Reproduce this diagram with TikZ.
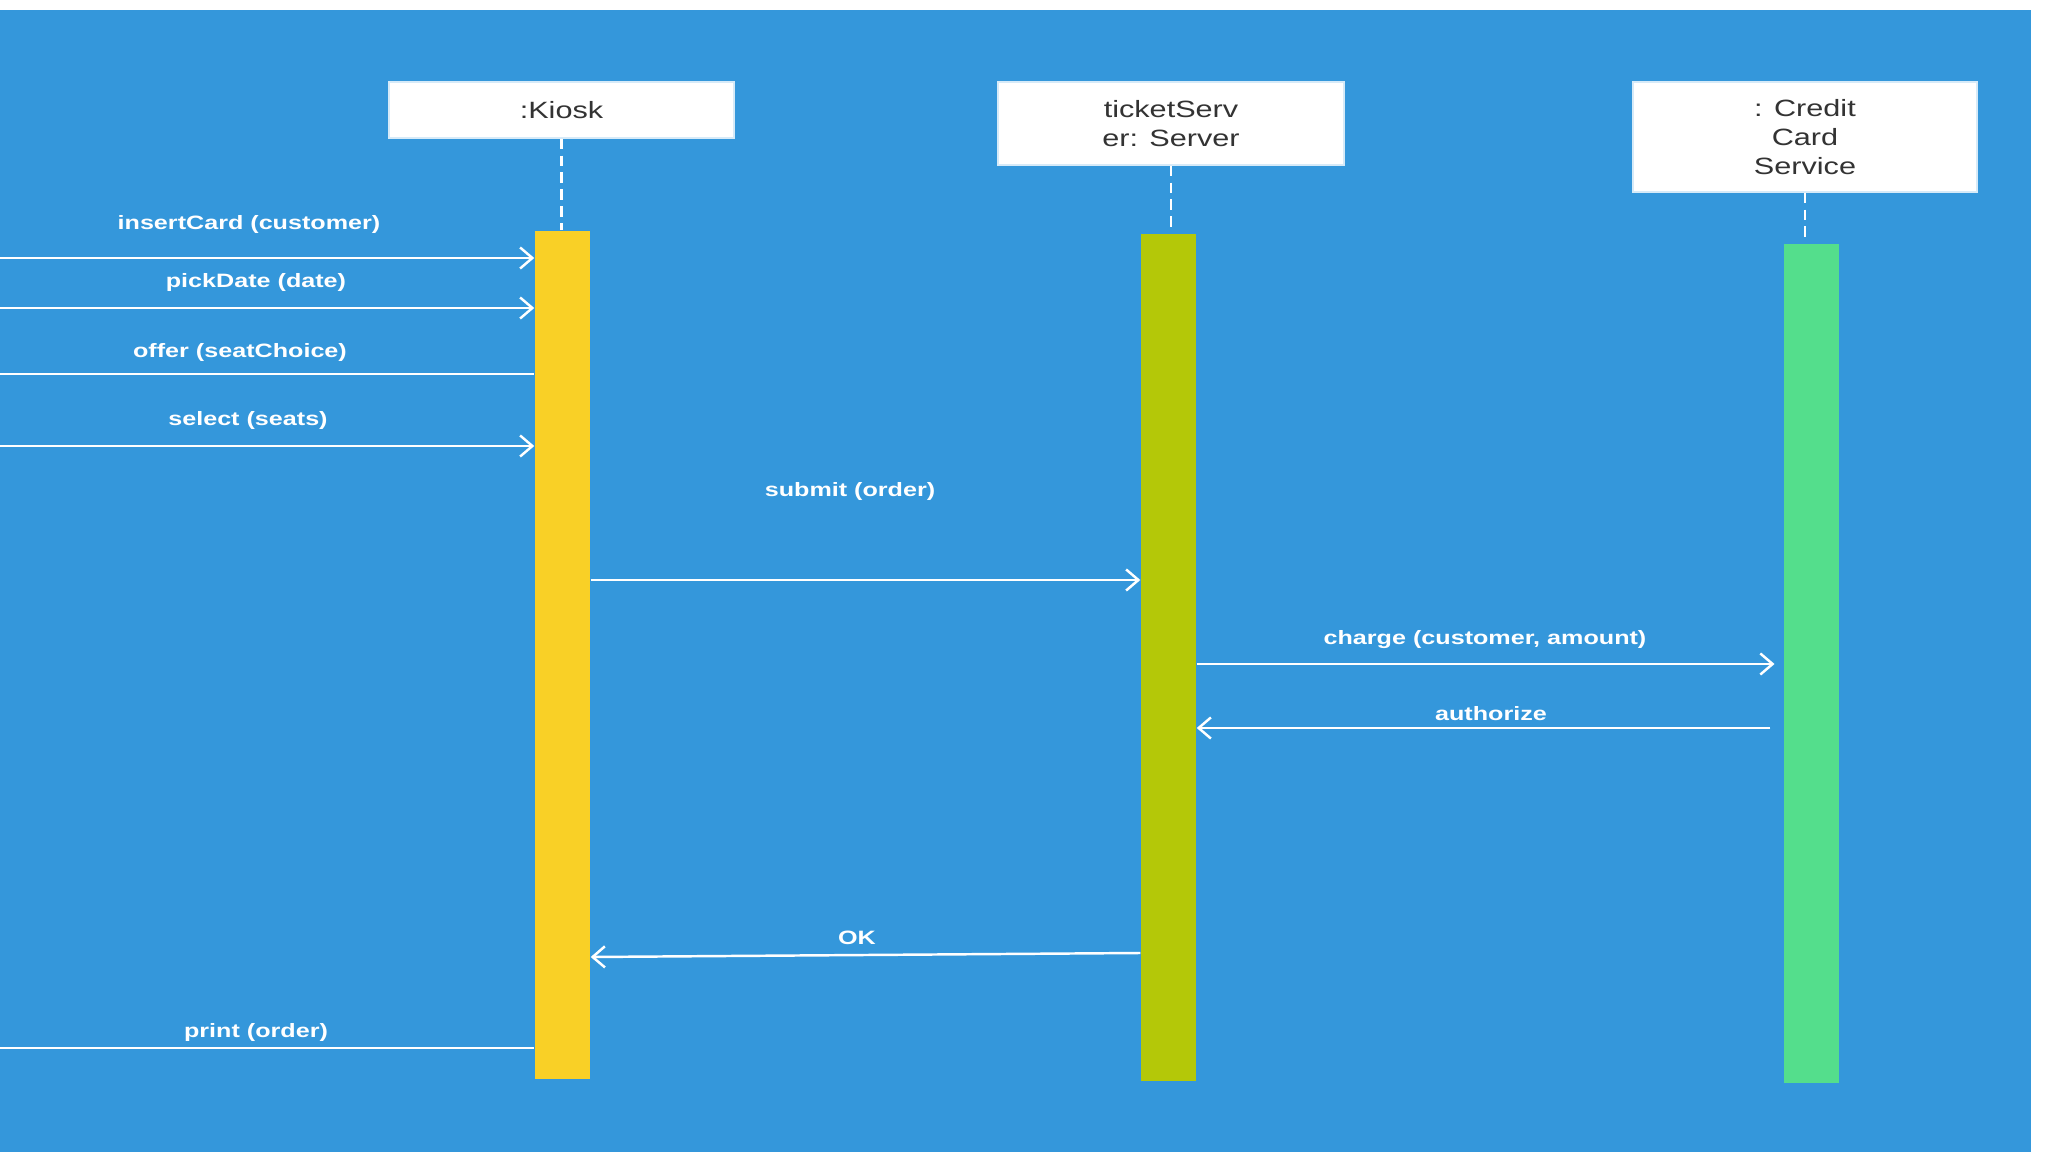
\documentclass[tikz,border=0pt]{standalone}
\usepackage{fontspec}
\setmainfont{Liberation Sans}
\newfontfamily\umlfont[FakeStretch=1.3]{Liberation Sans}
\usetikzlibrary{arrows.meta}
\definecolor{sceneBlue}{RGB}{52,151,219}
\definecolor{kioskYellow}{RGB}{249,208,38}
\definecolor{serverOlive}{RGB}{180,200,8}
\definecolor{cardGreen}{RGB}{84,222,140}
\tikzset{
  objbox/.style={draw=white!80!sceneBlue, fill=white, line width=0.4pt, inner sep=0pt,
    align=center, text=black!80, font=\umlfont\fontsize{6.7}{8.2}\selectfont},
  actbar/.style={minimum width=0.55cm, inner sep=0pt},
  lifeline/.style={white, line width=0.7pt, dash pattern=on 3pt off 1.8pt},
  msg/.style={white, line width=0.7pt, -{Straight Barb[length=3.5pt,width=6pt]}},
  msgline/.style={white, line width=0.7pt},
  msglabel/.style={text=white, inner sep=0pt, font=\umlfont\bfseries\fontsize{5.5}{6.5}\selectfont},
}
\begin{document}
\begin{tikzpicture}[x=0.01cm,y=-0.01cm]
\useasboundingbox (0,0) rectangle (2048,1152);
\fill[white] (0,0) rectangle (2048,1152);
\fill[sceneBlue] (0,10) rectangle (2031,1152);

% objects
\node[objbox, minimum width=3.45cm, minimum height=0.56cm] (kiosk) at (561.5,110) {:Kiosk};
\node[objbox, minimum width=3.46cm, minimum height=0.83cm] (server) at (1171,123.5) {ticketServ\\er: Server};
\node[objbox, minimum width=3.44cm, minimum height=1.10cm] (card) at (1805,137) {: Credit\\Card\\Service};

% activation bars
\node[actbar, fill=kioskYellow, minimum height=8.48cm] (kioskbar) at (562.5,655) {};
\node[actbar, fill=serverOlive, minimum height=8.47cm] (serverbar) at (1168.5,657.5) {};
\node[actbar, fill=cardGreen, minimum height=8.39cm] (cardbar) at (1811.5,663.5) {};

\draw[lifeline] (kiosk.south) -- (kiosk.south |- kioskbar.north);
\draw[lifeline] (server.south) -- (server.south |- serverbar.north);
\draw[lifeline] (card.south) -- (card.south |- cardbar.north);

% messages from the left edge
\foreach \name/\y/\lx/\ly/\txt/\kind in {
  insert/258/249/225/insertCard (customer)/msg,
  pick/308/256/283/pickDate (date)/msg,
  offer/374/240/353/offer (seatChoice)/msgline,
  select/446/248/421/select (seats)/msg,
  print/1048/256/1032/print (order)/msgline}{
  \coordinate (\name-in) at (0,\y);
  \draw[\kind] (\name-in) -- (\name-in -| kioskbar.west);
  \node[msglabel] (\name-lbl) at (\lx,\ly) {\txt};
}

% messages between objects
\draw[msg] (kioskbar.east |- 0,580) -- (serverbar.west |- 0,580);
\node[msglabel] (submit-lbl) at (850,492) {submit (order)};
\draw[msg, shorten >=2.5pt] (serverbar.east |- 0,664) -- (cardbar.west |- 0,664);
\node[msglabel] (charge-lbl) at (1485,640) {charge (customer, amount)};
\draw[msg, shorten <=3.7pt] (cardbar.west |- 0,728) -- (serverbar.east |- 0,728);
\node[msglabel] (auth-lbl) at (1491,714) {authorize};
\draw[msg] (serverbar.west |- 0,953) -- (kioskbar.east |- 0,957);
\node[msglabel] (ok-lbl) at (857,938) {OK};
\end{tikzpicture}
\end{document}
